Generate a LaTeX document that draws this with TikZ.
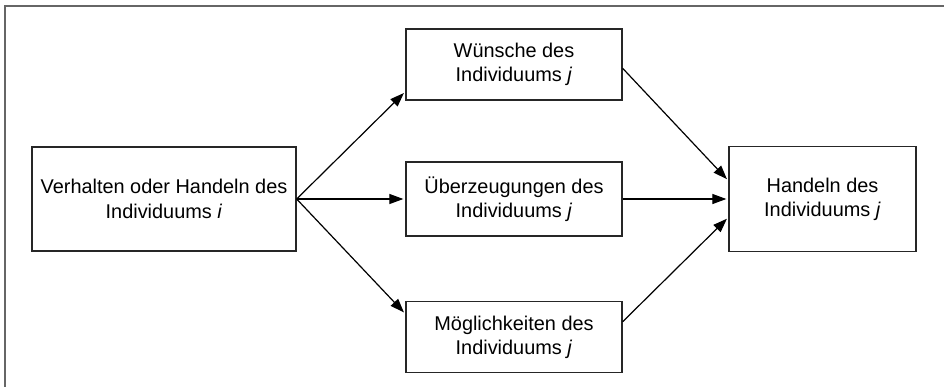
\documentclass[tikz,border=0pt]{standalone}
\usepackage{fontspec}
\setmainfont{Liberation Sans}
\usetikzlibrary{arrows.meta}

\begin{document}
\begin{tikzpicture}[x=1pt,y=-1pt,>={Triangle[length=14pt,width=10pt]},shorten >=2pt,node distance=350pt,
    box/.style={draw=black!85,line width=1.3pt,align=center,inner sep=0pt,font=\fontsize{19.9}{24.3}\selectfont},
    link/.style={->,line width=1.2pt}]

            \useasboundingbox (0,0) rectangle (944,389);
            \draw[black!60,line width=2pt] (944,5.5) -- (4.5,5.5) -- (4.5,389);

            \node[box, minimum width=264pt, minimum height=104pt] (verhalten) at (164,199) {Verhalten oder Handeln des\\Individuums \textit{i}};
            \node[box, minimum width=216pt, minimum height=74pt] (ueberz) [right of = verhalten] {Überzeugungen des\\Individuums \textit{j}};
            \node[box, minimum width=216pt, minimum height=71pt, node distance=134.5pt] (wuensche) [above of = ueberz] {Wünsche des\\Individuums \textit{j}};
            \node[box, minimum width=216pt, minimum height=71pt, node distance=138pt] (moeglich) [below of = ueberz] {Möglichkeiten des\\Individuums \textit{j}};
            \node[box, minimum width=187pt, minimum height=105pt, node distance=308.5pt] (handeln) [right of = ueberz] {Handeln des\\Individuums \textit{j}};

            \draw[link] (verhalten.east) to (wuensche.194);
            \draw[link] (verhalten.east) to (ueberz.west);
            \draw[link] (verhalten.east) to (moeglich.168);
            \draw[link] (wuensche.358) to (handeln.169);
            \draw[link] (ueberz.east) to (handeln.west);
            \draw[link] (moeglich.8) to (handeln.191);

\end{tikzpicture}
\end{document}
